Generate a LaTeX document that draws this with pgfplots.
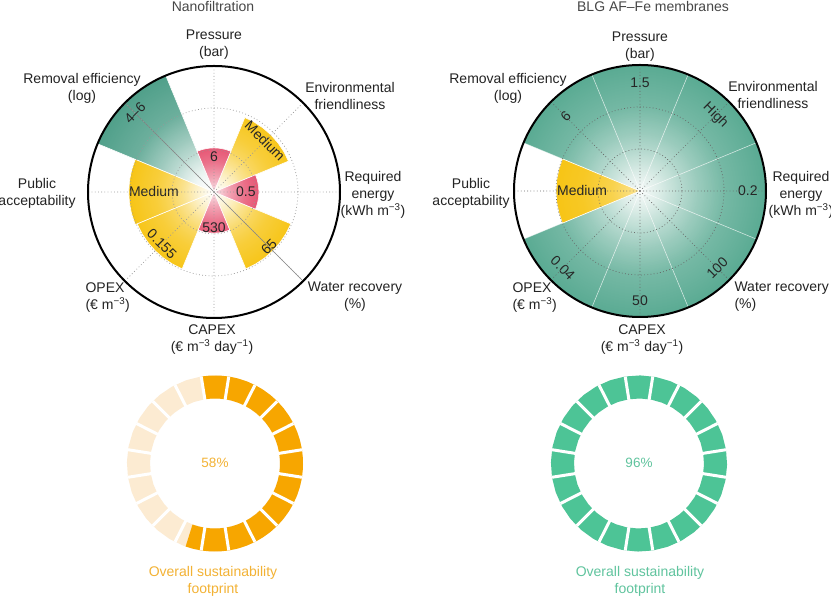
\documentclass[border=0pt]{standalone}
\usepackage{pgfplots}
\pgfplotsset{compat=1.18}
\usepgfplotslibrary{polar}
\usetikzlibrary{fadings}
\usepackage{fontspec}
\setmainfont{Liberation Sans}

\definecolor{nfpink}{RGB}{231,86,116}
\definecolor{nfyellow}{RGB}{247,197,22}
\definecolor{nfteal}{RGB}{80,160,138}
\definecolor{blgteal}{RGB}{90,171,147}
\definecolor{ringorange}{RGB}{247,166,0}
\definecolor{ringorangelight}{RGB}{252,235,210}
\definecolor{ringgreen}{RGB}{77,196,150}
\definecolor{txtorange}{RGB}{243,178,52}
\definecolor{txtgreen}{RGB}{96,196,158}
\definecolor{labgray}{RGB}{35,35,35}

% white veil, strong at the pole and gone at the rim
\pgfdeclareradialshading{veilshade}{\pgfpointorigin}{%
  color(0bp)=(white!86!black); color(8bp)=(white!47!black);
  color(17bp)=(white!16!black); color(25bp)=(black); color(50bp)=(black)}
\pgfdeclarefading{veil}{\pgfuseshading{veilshade}}
\pgfdeclareradialshading{softveilshade}{\pgfpointorigin}{%
  color(0bp)=(white!55!black); color(8bp)=(white!25!black);
  color(17bp)=(white!7!black); color(25bp)=(black); color(50bp)=(black)}
\pgfdeclarefading{softveil}{\pgfuseshading{softveilshade}}

\pgfplotsset{
  radar/.style={
    width=252pt, height=252pt, scale only axis,
    xmin=0, xmax=360, ymin=0, ymax=3,
    xtick={0,45,...,315}, ytick={1,2},
    xticklabels={}, yticklabels={},
    xtick style={draw=none}, ytick style={draw=none},
    xmajorgrids, ymajorgrids,
    major grid style={#1, line width=0.7pt, dash pattern=on 0.8pt off 2.4pt},
    y axis line style={draw=none},
    x axis line style={draw=black, line width=2pt},
    axis on top, clip=false, anchor=center},
  wedge/.style={draw=white, line width=0.6pt, fill=#1},
  ring/.style={
    width=176pt, height=176pt, scale only axis,
    xmin=0, xmax=360, ymin=0, ymax=1,
    xtick={9,27,...,351}, ytick=\empty, xticklabels={},
    xtick style={draw=none},
    xmajorgrids, major x grid style={white, line width=3pt},
    axis line style={draw=none},
    axis on top, clip=false, anchor=center},
  arc/.style={draw=#1, line width=23pt, line cap=butt, line join=round, mark=none},
}

\begin{document}
\begin{tikzpicture}[x=1pt, y=1pt,
  lab/.style={font=\fontsize{14}{17}\selectfont, align=center, text=labgray},
  val/.style={font=\fontsize{14}{16}\selectfont, text=black!85}]
\fill[white] (0,0) rectangle (831,596);
\path[use as bounding box] (0,0) rectangle (831,596);

% ---------------- Nanofiltration ----------------
\begin{polaraxis}[radar={gray!80}, at={(214pt,404pt)}]
  % removal efficiency
  \addplot[wedge=nfteal] coordinates {(0,0) (112.5,3) (120,3) (127.5,3) (135,3) (142.5,3) (150,3) (157.5,3) (0,0)};
  \fill[white, path fading=veil] (axis cs:0,0) circle[radius=126pt];
  % environmental friendliness, water recovery, OPEX, public acceptability
  \addplot[wedge=nfyellow] coordinates {(0,0) (22.5,1.92) (30,1.92) (37.5,1.92) (45,1.92) (52.5,1.92) (60,1.92) (67.5,1.92) (0,0)};
  \addplot[wedge=nfyellow] coordinates {(0,0) (-67.5,1.98) (-60,1.98) (-52.5,1.98) (-45,1.98) (-37.5,1.98) (-30,1.98) (-22.5,1.98) (0,0)};
  \addplot[wedge=nfyellow] coordinates {(0,0) (-157.5,1.98) (-150,1.98) (-142.5,1.98) (-135,1.98) (-127.5,1.98) (-120,1.98) (-112.5,1.98) (0,0)};
  \addplot[wedge=nfyellow] coordinates {(0,0) (157.5,2.03) (165,2.03) (172.5,2.03) (180,2.03) (187.5,2.03) (195,2.03) (202.5,2.03) (0,0)};
  \fill[white, path fading=veil] (axis cs:0,0) circle[radius=85pt];
  % pressure, required energy, CAPEX
  \addplot[wedge=nfpink] coordinates {(0,0) (67.5,1.05) (75,1.05) (82.5,1.05) (90,1.05) (97.5,1.05) (105,1.05) (112.5,1.05) (0,0)};
  \addplot[wedge=nfpink] coordinates {(0,0) (-22.5,1.07) (-15,1.07) (-7.5,1.07) (0,1.07) (7.5,1.07) (15,1.07) (22.5,1.07) (0,0)};
  \addplot[wedge=nfpink] coordinates {(0,0) (-112.5,0.98) (-105,0.98) (-97.5,0.98) (-90,0.98) (-82.5,0.98) (-75,0.98) (-67.5,0.98) (0,0)};
  \fill[white, path fading=veil] (axis cs:0,0) circle[radius=45pt];
  \draw[gray, line width=0.5pt] (axis cs:135,3) -- (axis cs:315,3);
  \node[val] at (axis cs:90,0.83) {6};
  \node[val, rotate=-45] at (axis cs:45,1.72) {Medium};
  \node[val] at (axis cs:0,0.76) {0.5};
  \node[val, rotate=45] at (axis cs:-45,1.85) {65};
  \node[val] at (axis cs:270,0.86) {530};
  \node[val, rotate=-45] at (axis cs:-135,1.75) {0.155};
  \node[val] at (axis cs:180,1.43) {Medium};
  \node[val, rotate=45] at (axis cs:135,2.66) {4--6};
\end{polaraxis}

\node[lab, text=black!72] at (213,589) {Nanofiltration};
\node[lab] at (214,551) {Pressure\\(bar)};
\node[lab] at (350,500) {Environmental\\friendliness};
\node[lab] at (373,401) {Required\\energy\\(kWh m\textsuperscript{−3})};
\node[lab] at (355,299) {Water recovery\\(\%)};
\node[lab] at (212,256) {CAPEX\\(€ m\textsuperscript{−3} day\textsuperscript{−1})};
\node[lab, anchor=west, align=left] at (82,298) {OPEX\\(€ m\textsuperscript{−3})};
\node[lab] at (37,403) {Public\\acceptability};
\node[lab] at (82,508) {Removal efficiency\\(log)};

% ---------------- BLG AF-Fe membranes ----------------
\begin{polaraxis}[radar={black!60}, at={(640pt,405pt)}]
  % the seven criteria that reach the rim
  \addplot[wedge=blgteal, draw opacity=0.5] coordinates {(0,0) (67.5,3) (75,3) (82.5,3) (90,3) (97.5,3) (105,3) (112.5,3) (0,0)};
  \addplot[wedge=blgteal, draw opacity=0.5] coordinates {(0,0) (22.5,3) (30,3) (37.5,3) (45,3) (52.5,3) (60,3) (67.5,3) (0,0)};
  \addplot[wedge=blgteal, draw opacity=0.5] coordinates {(0,0) (-22.5,3) (-15,3) (-7.5,3) (0,3) (7.5,3) (15,3) (22.5,3) (0,0)};
  \addplot[wedge=blgteal, draw opacity=0.5] coordinates {(0,0) (-67.5,3) (-60,3) (-52.5,3) (-45,3) (-37.5,3) (-30,3) (-22.5,3) (0,0)};
  \addplot[wedge=blgteal, draw opacity=0.5] coordinates {(0,0) (-112.5,3) (-105,3) (-97.5,3) (-90,3) (-82.5,3) (-75,3) (-67.5,3) (0,0)};
  \addplot[wedge=blgteal, draw opacity=0.5] coordinates {(0,0) (-157.5,3) (-150,3) (-142.5,3) (-135,3) (-127.5,3) (-120,3) (-112.5,3) (0,0)};
  \addplot[wedge=blgteal, draw opacity=0.5] coordinates {(0,0) (112.5,3) (120,3) (127.5,3) (135,3) (142.5,3) (150,3) (157.5,3) (0,0)};
  \fill[white, path fading=veil] (axis cs:0,0) circle[radius=126pt];
  % public acceptability
  \addplot[wedge=nfyellow] coordinates {(0,0) (157.5,2.0) (165,2.0) (172.5,2.0) (180,2.0) (187.5,2.0) (195,2.0) (202.5,2.0) (0,0)};
  \fill[white, path fading=softveil] (axis cs:0,0) circle[radius=84pt];
  \node[val] at (axis cs:90,2.57) {1.5};
  \node[val, rotate=-45] at (axis cs:45,2.54) {High};
  \node[val] at (axis cs:0,2.57) {0.2};
  \node[val, rotate=45] at (axis cs:-45,2.6) {100};
  \node[val] at (axis cs:270,2.6) {50};
  \node[val, rotate=-45] at (axis cs:-135,2.6) {0.04};
  \node[val] at (axis cs:180,1.38) {Medium};
  \node[val, rotate=45] at (axis cs:135,2.5) {6};
\end{polaraxis}

\node[lab, text=black!72] at (653,589) {BLG AF–Fe membranes};
\node[lab] at (640,549) {Pressure\\(bar)};
\node[lab] at (773,501) {Environmental\\friendliness};
\node[lab] at (801,401) {Required\\energy\\(kWh m\textsuperscript{−3})};
\node[lab, anchor=west, align=left] at (731,299) {Water recovery\\(\%)};
\node[lab] at (642,256) {CAPEX\\(€ m\textsuperscript{−3} day\textsuperscript{−1})};
\node[lab, anchor=west, align=left] at (509,298) {OPEX\\(€ m\textsuperscript{−3})};
\node[lab] at (471,403) {Public\\acceptability};
\node[lab] at (508,508) {Removal efficiency\\(log)};

% ---------------- sustainability rings ----------------
\begin{polaraxis}[ring, at={(215pt,132.5pt)}]
  \addplot[arc=ringorangelight] coordinates {(9,0.87) (19,0.87) (29,0.87) (39,0.87) (49,0.87) (59,0.87) (69,0.87) (79,0.87) (89,0.87) (99,0.87) (109,0.87) (119,0.87) (129,0.87) (139,0.87) (149,0.87) (159,0.87) (169,0.87) (179,0.87) (189,0.87) (199,0.87) (209,0.87) (219,0.87) (229,0.87) (239,0.87) (249,0.87) (259,0.87) (269,0.87) (279,0.87) (289,0.87) (299,0.87) (309,0.87) (319,0.87) (329,0.87) (339,0.87) (349,0.87) (359,0.87) (369,0.87)};
  % 58 %
  \addplot[arc=ringorange] coordinates {(99,0.87) (93,0.87) (87,0.87) (81,0.87) (75,0.87) (69,0.87) (63,0.87) (57,0.87) (51,0.87) (45,0.87) (39,0.87) (33,0.87) (27,0.87) (21,0.87) (15,0.87) (9,0.87) (3,0.87) (-3,0.87) (-9,0.87) (-15,0.87) (-21,0.87) (-27,0.87) (-33,0.87) (-39,0.87) (-45,0.87) (-51,0.87) (-57,0.87) (-63,0.87) (-69,0.87) (-75,0.87) (-81,0.87) (-87,0.87) (-93,0.87) (-99,0.87) (-105,0.87) (-109.8,0.87)};
\end{polaraxis}
\node[font=\fontsize{13.5}{15}\selectfont, text=txtorange] at (215,133) {58\%};
\node[lab, text=txtorange] at (213,15) {Overall sustainability\\footprint};

\begin{polaraxis}[ring, at={(639pt,132.5pt)}]
  % 96 %: every segment is drawn green in the figure
  \addplot[arc=ringgreen] coordinates {(9,0.87) (19,0.87) (29,0.87) (39,0.87) (49,0.87) (59,0.87) (69,0.87) (79,0.87) (89,0.87) (99,0.87) (109,0.87) (119,0.87) (129,0.87) (139,0.87) (149,0.87) (159,0.87) (169,0.87) (179,0.87) (189,0.87) (199,0.87) (209,0.87) (219,0.87) (229,0.87) (239,0.87) (249,0.87) (259,0.87) (269,0.87) (279,0.87) (289,0.87) (299,0.87) (309,0.87) (319,0.87) (329,0.87) (339,0.87) (349,0.87) (359,0.87) (369,0.87)};
\end{polaraxis}
\node[font=\fontsize{13.5}{15}\selectfont, text=txtgreen] at (639,133) {96\%};
\node[lab, text=txtgreen] at (640,15) {Overall sustainability\\footprint};
\end{tikzpicture}
\end{document}
